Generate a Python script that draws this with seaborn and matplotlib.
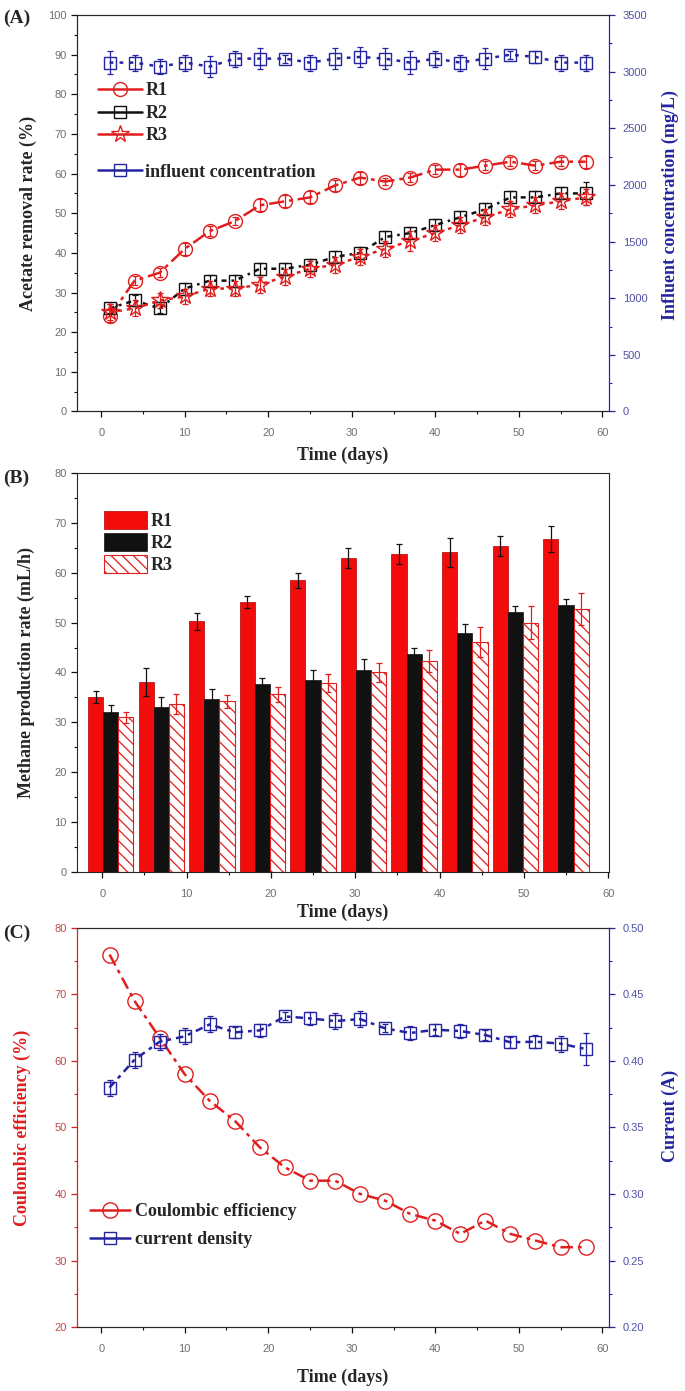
"""
Three stacked panels: acetate removal, methane production rate, coulombic efficiency.
"""
import matplotlib
matplotlib.use("Agg")
import matplotlib.pyplot as plt
import pandas as pd
import seaborn as sns
from matplotlib.lines import Line2D
from matplotlib.ticker import AutoMinorLocator, FormatStrFormatter, MultipleLocator

# ---- panel A : acetate removal + influent concentration ----
days_a = [1, 4, 7, 10, 13, 16, 19, 22, 25, 28, 31, 34, 37, 40, 43, 46, 49, 52, 55, 58]
r1_removal = [24, 33, 35, 41, 45.5, 48, 52, 53, 54, 57, 59, 58, 59, 61, 61, 62, 63, 62, 63, 63]
r1_removal_err = [1.5, 1.2, 1.2, 1.5, 1.2, 1.0, 1.5, 1.5, 1.5, 1.5, 1.5, 1.0, 1.2, 1.2, 1.5, 1.2, 1.2, 1.2, 1.2, 1.5]
r2_removal = [26, 28, 26, 31, 33, 33, 36, 36, 37, 39, 40, 44, 45, 47, 49, 51, 54, 54, 55, 55]
r2_removal_err = [1.2, 1.5, 1.2, 1.5, 1.5, 1.5, 1.5, 1.5, 1.5, 1.5, 1.5, 1.5, 1.5, 1.5, 1.5, 1.5, 1.5, 1.5, 1.5, 3.0]
r3_removal = [25, 26, 28, 29, 31, 31, 32, 34, 36, 37, 39, 41, 43, 45, 47, 49, 51, 52, 53, 54]
r3_removal_err = [2.0, 2.0, 2.0, 2.0, 2.0, 2.0, 2.0, 2.0, 2.0, 2.0, 2.0, 2.0, 2.5, 2.0, 2.0, 2.0, 2.0, 2.0, 2.0, 2.0]
influent = [3080, 3080, 3045, 3080, 3045, 3115, 3115, 3115, 3080, 3115,
            3130, 3115, 3080, 3115, 3080, 3115, 3150, 3130, 3080, 3080]
influent_err = [105, 70, 70, 70, 90, 70, 90, 35, 70, 90, 90, 90, 105, 70, 70, 90, 35, 50, 70, 70]

# ---- panel B : methane production rate ----
days_b = [1, 7, 13, 19, 25, 31, 37, 43, 49, 55]
reactors = ["R1", "R2", "R3"]
r1_methane = [35.0, 38.0, 50.3, 54.1, 58.5, 62.9, 63.8, 64.1, 65.3, 66.8]
r1_methane_err = [1.2, 2.8, 1.7, 1.2, 1.5, 2.0, 2.0, 2.9, 2.0, 2.6]
r2_methane = [32.0, 33.0, 34.7, 37.6, 38.4, 40.5, 43.7, 47.9, 52.1, 53.5]
r2_methane_err = [1.5, 2.0, 2.0, 1.2, 2.1, 2.3, 1.2, 1.8, 1.2, 1.2]
r3_methane = [31.0, 33.6, 34.2, 35.6, 37.9, 40.0, 42.3, 46.1, 50.0, 52.7]
r3_methane_err = [1.1, 2.0, 1.3, 1.5, 1.8, 2.0, 2.3, 3.0, 3.3, 3.2]

# ---- panel C : coulombic efficiency + current ----
days_c = days_a
coulombic = [76, 69, 63.5, 58, 54, 51, 47, 44, 42, 42, 40, 39, 37, 36, 34, 36, 34, 33, 32, 32]
current = [0.380, 0.401, 0.4145, 0.4185, 0.4275, 0.4215, 0.423, 0.4335, 0.432, 0.430,
           0.4315, 0.4245, 0.421, 0.4235, 0.4225, 0.4195, 0.414, 0.4145, 0.413, 0.409]
current_err = [0.006, 0.006, 0.006, 0.006, 0.006, 0.004, 0.005, 0.003, 0.005, 0.006,
               0.006, 0.003, 0.005, 0.004, 0.005, 0.004, 0.004, 0.005, 0.006, 0.012]

RED = "#e01e1e"
BAR_RED = "#f20c0c"
BLUE = "#2424a0"
BLACK = "#111111"
TICK_GREY = "#6f6f6f"
SERIF = ["Liberation Serif", "DejaVu Serif"]

sns.set_style("ticks")
plt.rcParams["font.family"] = ["Liberation Sans", "DejaVu Sans"]
plt.rcParams["hatch.linewidth"] = 0.9

label_font = dict(family=SERIF, weight="bold", size=13)
legend_font = dict(family=SERIF, weight="bold", size=13)


def style_ticks(ax, which_axis, color, label_color):
    ax.tick_params(axis=which_axis, which="major", direction="out", length=4, width=0.9,
                   colors=color, labelcolor=label_color, labelsize=8)
    ax.tick_params(axis=which_axis, which="minor", direction="out", length=2.5, width=0.8,
                   colors=color)


def style_x(ax, xmax):
    ax.set_xlim(-2.9, xmax)
    ax.xaxis.set_major_locator(MultipleLocator(10))
    ax.xaxis.set_minor_locator(AutoMinorLocator(2))
    style_ticks(ax, "x", BLACK, TICK_GREY)
    ax.tick_params(axis="x", pad=8)


fig = plt.figure(figsize=(6.85, 13.91), dpi=100)
L, W = 0.1124, 0.7766
ax_a = fig.add_axes([L, 0.7042, W, 0.2850])
ax_b = fig.add_axes([L, 0.3731, W, 0.2869])
ax_c = fig.add_axes([L, 0.0460, W, 0.2869])

# ================= (A) =================
ax_a2 = ax_a.twinx()
series_a = [
    ("R1", r1_removal, r1_removal_err, RED, "o", 10, (0, (6, 2, 1.5, 2))),
    ("R2", r2_removal, r2_removal_err, BLACK, "s", 9, (0, (2, 2, 1, 2))),
    ("R3", r3_removal, r3_removal_err, RED, "*", 13, (0, (1.5, 2))),
]
for name, vals, errs, col, mk, ms, ls in series_a:
    ax_a.errorbar(days_a, vals, yerr=errs, fmt="none", ecolor=col, elinewidth=0.9,
                  capsize=2.5, capthick=0.9)
    sns.lineplot(x=days_a, y=vals, ax=ax_a, color=col, marker=mk, markersize=ms,
                 markerfacecolor="none", markeredgecolor=col, markeredgewidth=1.0,
                 linestyle=ls, linewidth=1.8, legend=False)

ax_a2.errorbar(days_a, influent, yerr=influent_err, fmt="none", ecolor=BLUE,
               elinewidth=0.9, capsize=2.5, capthick=0.9)
sns.lineplot(x=days_a, y=influent, ax=ax_a2, color=BLUE, marker="s", markersize=9,
             markerfacecolor="none", markeredgecolor=BLUE, markeredgewidth=1.0,
             linestyle=(0, (1.5, 2.5)), linewidth=1.8, legend=False)

ax_a.set_ylim(0, 100)
ax_a.yaxis.set_major_locator(MultipleLocator(10))
ax_a.yaxis.set_minor_locator(AutoMinorLocator(2))
ax_a2.set_ylim(0, 3500)
ax_a2.yaxis.set_major_locator(MultipleLocator(500))
ax_a2.yaxis.set_minor_locator(AutoMinorLocator(2))
style_x(ax_a, 60.8)
style_ticks(ax_a, "y", BLACK, TICK_GREY)
style_ticks(ax_a2, "y", BLUE, "#5050a8")
ax_a2.tick_params(axis="y", pad=6)
ax_a2.spines["right"].set_color(BLUE)
ax_a.spines["right"].set_color(BLUE)

ax_a.set_xlabel("Time (days)", **label_font)
ax_a.xaxis.set_label_coords(0.5, -0.110)
ax_a.xaxis.label.set_va("center")
ax_a.set_ylabel("Acetate removal rate (%)", **label_font)
ax_a.yaxis.set_label_coords(-0.092, 0.5)
ax_a.yaxis.label.set_va("center")
ax_a2.set_ylabel("Influent concentration (mg/L)", color=BLUE, **label_font)
ax_a2.yaxis.set_label_coords(1.115, 0.52)
ax_a2.yaxis.label.set_va("center")

proxy = {
    "R1": Line2D([], [], color=RED, lw=1.8, marker="o", ms=10, mfc="none", mec=RED),
    "R2": Line2D([], [], color=BLACK, lw=1.8, marker="s", ms=9, mfc="none", mec=BLACK),
    "R3": Line2D([], [], color=RED, lw=1.8, marker="*", ms=13, mfc="none", mec=RED),
    "inf": Line2D([], [], color=BLUE, lw=1.8, marker="s", ms=9, mfc="none", mec=BLUE),
}
leg_a = ax_a2.legend([proxy["R1"], proxy["R2"], proxy["R3"]], ["R1", "R2", "R3"],
                     loc="upper left", bbox_to_anchor=(0.04, 0.83), frameon=False,
                     prop=legend_font, handlelength=2.4, handletextpad=0.2,
                     labelspacing=0.3, borderaxespad=0, borderpad=0)
ax_a2.add_artist(leg_a)
ax_a2.legend([proxy["inf"]], ["influent concentration"], loc="upper left",
             bbox_to_anchor=(0.04, 0.625), frameon=False, prop=legend_font,
             handlelength=2.4, handletextpad=0.2, borderaxespad=0, borderpad=0)

# ================= (B) =================
methane_vals = [r1_methane, r2_methane, r3_methane]
methane_errs = [r1_methane_err, r2_methane_err, r3_methane_err]
df_b = pd.DataFrame({
    "day": days_b * 3,
    "rate": sum(methane_vals, []),
    "reactor": [r for r in reactors for _ in days_b],
})
sns.barplot(data=df_b, x="day", y="rate", hue="reactor", hue_order=reactors,
            native_scale=True, errorbar=None, width=0.9, gap=0, legend=False,
            palette={"R1": BAR_RED, "R2": BLACK, "R3": "white"},
            edgecolor=BLACK, linewidth=0.5, saturation=1, ax=ax_b)

err_colors = [BLACK, BLACK, RED]
for cont, errs, ecol, name in zip(ax_b.containers, methane_errs, err_colors, reactors):
    xs = [bar.get_x() + bar.get_width() / 2 for bar in cont]
    hs = [bar.get_height() for bar in cont]
    for bar in cont:
        if name == "R1":
            bar.set_edgecolor("#b00000")
        if name == "R3":
            bar.set_hatch("\\\\\\")
            bar.set_edgecolor(RED)
            bar.set_linewidth(0.8)
    ax_b.errorbar(xs, hs, yerr=errs, fmt="none", ecolor=ecol, elinewidth=0.9,
                  capsize=2.5, capthick=0.9, zorder=3)

ax_b.set_ylim(0, 80)
ax_b.yaxis.set_major_locator(MultipleLocator(10))
ax_b.yaxis.set_minor_locator(AutoMinorLocator(2))
style_x(ax_b, 60.1)
ax_b.set_xlim(-3.0, 60.1)
style_ticks(ax_b, "y", BLACK, TICK_GREY)
ax_b.set_xlabel("Time (days)", **label_font)
ax_b.xaxis.set_label_coords(0.5, -0.100)
ax_b.xaxis.label.set_va("center")
ax_b.set_ylabel("Methane production rate (mL/h)", **label_font)
ax_b.yaxis.set_label_coords(-0.096, 0.5)
ax_b.yaxis.label.set_va("center")
ax_b.legend(ax_b.containers, reactors, loc="upper left", bbox_to_anchor=(0.05, 0.905),
            frameon=False, prop=legend_font, handlelength=2.4, handleheight=1.2,
            handletextpad=0.2, labelspacing=0.15, borderaxespad=0, borderpad=0)

# ================= (C) =================
ax_c2 = ax_c.twinx()
sns.lineplot(x=days_c, y=coulombic, ax=ax_c, color=RED, marker="o", markersize=11,
             markerfacecolor="none", markeredgecolor=RED, markeredgewidth=1.0,
             linestyle=(0, (5, 2, 1.5, 2)), linewidth=1.8, legend=False)
ax_c2.errorbar(days_c, current, yerr=current_err, fmt="none", ecolor=BLUE,
               elinewidth=0.9, capsize=2.5, capthick=0.9)
sns.lineplot(x=days_c, y=current, ax=ax_c2, color=BLUE, marker="s", markersize=9,
             markerfacecolor="none", markeredgecolor=BLUE, markeredgewidth=1.0,
             linestyle=(0, (3, 2, 1.5, 2)), linewidth=1.8, legend=False)

ax_c.set_ylim(20, 80)
ax_c.yaxis.set_major_locator(MultipleLocator(10))
ax_c.yaxis.set_minor_locator(AutoMinorLocator(2))
ax_c2.set_ylim(0.20, 0.50)
ax_c2.yaxis.set_major_locator(MultipleLocator(0.05))
ax_c2.yaxis.set_minor_locator(AutoMinorLocator(2))
ax_c2.yaxis.set_major_formatter(FormatStrFormatter("%.2f"))
style_x(ax_c, 60.8)
style_ticks(ax_c, "y", RED, "#c04848")
style_ticks(ax_c2, "y", BLUE, "#5050a8")
ax_c2.tick_params(axis="y", pad=6)
for a in (ax_c, ax_c2):
    a.spines["left"].set_color(RED)
    a.spines["right"].set_color(BLUE)

ax_c.set_xlabel("Time (days)", **label_font)
ax_c.xaxis.set_label_coords(0.5, -0.125)
ax_c.xaxis.label.set_va("center")
ax_c.set_ylabel("Coulombic efficiency (%)", color=RED, **label_font)
ax_c.yaxis.set_label_coords(-0.103, 0.5)
ax_c.yaxis.label.set_va("center")
ax_c2.set_ylabel("Current (A)", color=BLUE, **label_font)
ax_c2.yaxis.set_label_coords(1.115, 0.53)
ax_c2.yaxis.label.set_va("center")

ax_c2.legend(
    [Line2D([], [], color=RED, lw=1.8, marker="o", ms=11, mfc="none", mec=RED),
     Line2D([], [], color=BLUE, lw=1.8, marker="s", ms=9, mfc="none", mec=BLUE)],
    ["Coulombic efficiency", "current density"],
    loc="upper left", bbox_to_anchor=(0.025, 0.31), frameon=False, prop=legend_font,
    handlelength=2.2, handletextpad=0.3, labelspacing=0.6, borderaxespad=0, borderpad=0)

# panel letters
for txt, ypix in (("(A)", 18), ("(B)", 478), ("(C)", 933)):
    fig.text(0.004, 1 - ypix / 1391, txt, ha="left", va="center",
             family=SERIF, weight="bold", size=14)

fig.savefig("out.png", dpi=100)
plt.close(fig)
